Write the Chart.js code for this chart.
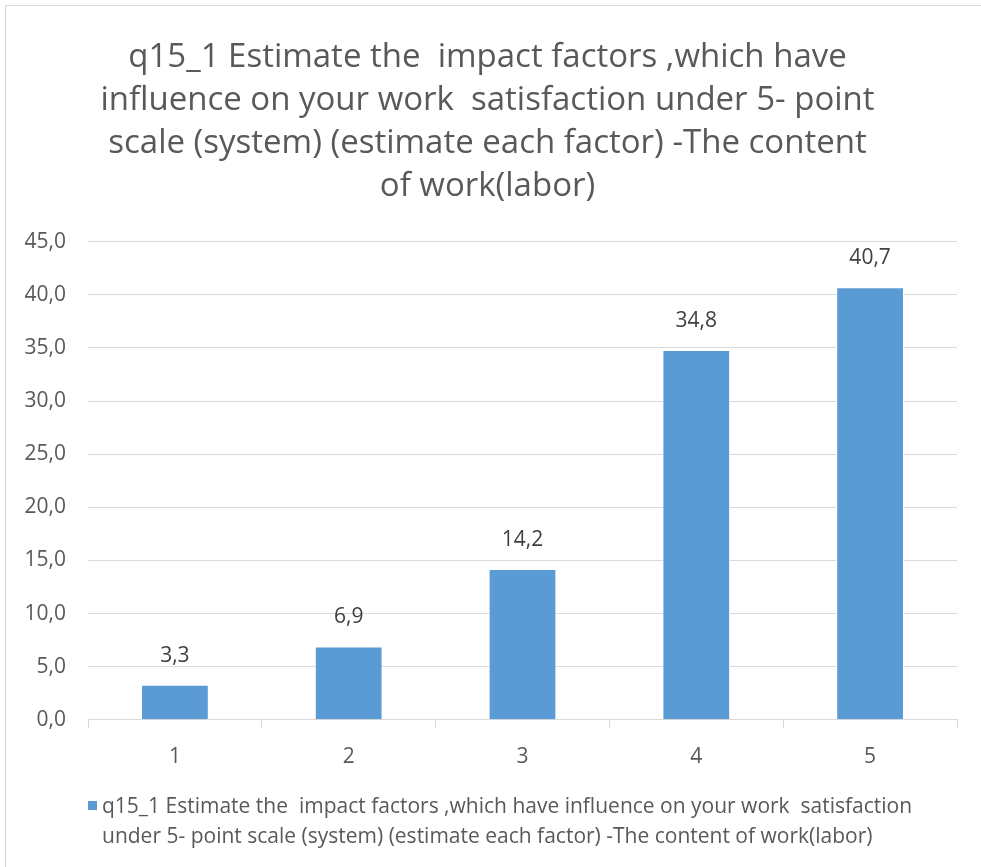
<!DOCTYPE html>
<html lang="en">
  <head>
    <meta charset="UTF-8" />
    <title>q15_1 The content of work(labor)</title>
    <script src="https://cdn.jsdelivr.net/npm/chart.js@4.4.1/dist/chart.umd.min.js"></script>
    <style>
      body {
        margin: 0;
        background: #fff;
        font-family: "Open Sans", "Noto Sans", sans-serif;
      }
      .wrap {
        position: relative;
        width: 981px;
        height: 867px;
        overflow: hidden;
      }
      .frame {
        position: absolute;
        left: 5px;
        top: 5px;
        width: 990px;
        height: 880px;
        border: 1px solid #d9d9d9;
      }
      canvas {
        position: absolute;
        left: 0;
        top: 0;
      }
      .legend {
        position: absolute;
        left: 88px;
        top: 790px;
        width: 880px;
        color: #595959;
        font-size: 21px;
        line-height: 30px;
        white-space: nowrap;
      }
      .legend .box {
        display: inline-block;
        width: 9px;
        height: 9px;
        background: #5b9bd5;
        margin-right: 5px;
        vertical-align: 3px;
      }
      .legend .second {
        padding-left: 14px;
      }
    </style>
  </head>
  <body>
    <div class="wrap">
      <div class="frame"></div>
      <canvas id="chart" width="981" height="867"></canvas>
      <div class="legend">
        <div><span class="box"></span>q15_1 Estimate the&nbsp; impact factors ,which have influence on your work&nbsp; satisfaction</div>
        <div class="second">under 5- point scale (system) (estimate each factor) -The content of work(labor)</div>
      </div>
    </div>
    <script>
      const categories = ["1", "2", "3", "4", "5"];
      const values = [3.3, 6.9, 14.2, 34.8, 40.7];
      const titleLines = [
        "q15_1 Estimate the  impact factors ,which have",
        "influence on your work  satisfaction under 5- point",
        "scale (system) (estimate each factor) -The content",
        "of work(labor)",
      ];
      const seriesName =
        "q15_1 Estimate the  impact factors ,which have influence on your work  satisfaction under 5- point scale (system) (estimate each factor) -The content of work(labor)";

      const fmt = (v) => v.toFixed(1).replace(".", ",");
      const fontFamily = '"Open Sans", "Noto Sans", sans-serif';

      // value labels above each bar
      const barLabels = {
        id: "barLabels",
        afterDatasetsDraw(chart) {
          const ctx = chart.ctx;
          const meta = chart.getDatasetMeta(0);
          ctx.save();
          ctx.fillStyle = "#404040";
          ctx.font = "21px " + fontFamily;
          ctx.textAlign = "center";
          ctx.textBaseline = "middle";
          meta.data.forEach((bar, i) => {
            ctx.fillText(fmt(values[i]), bar.x, bar.y - 29);
          });
          ctx.restore();
        },
      };

      new Chart(document.getElementById("chart"), {
        type: "bar",
        data: {
          labels: categories,
          datasets: [
            {
              label: seriesName,
              data: values,
              backgroundColor: "#5b9bd5",
              borderColor: "#ffffff",
              borderWidth: 1,
              categoryPercentage: 1,
              barPercentage: 0.39,
            },
          ],
        },
        options: {
          responsive: false,
          animation: false,
          layout: {
            padding: { top: 26, left: 18, right: 24, bottom: 80 },
          },
          plugins: {
            legend: { display: false },
            tooltip: { enabled: false },
            title: {
              display: true,
              text: titleLines,
              color: "#595959",
              font: { family: fontFamily, size: 33, weight: "normal", lineHeight: 1.3 },
              padding: { top: 10, bottom: 34 },
            },
          },
          scales: {
            x: {
              grid: {
                display: true,
                drawOnChartArea: false,
                drawTicks: true,
                tickLength: 8,
                color: "#d9d9d9",
              },
              border: { color: "#d9d9d9", width: 1 },
              ticks: {
                color: "#595959",
                font: { family: fontFamily, size: 21 },
                padding: 17,
              },
            },
            y: {
              min: 0,
              max: 45,
              afterFit: (scale) => {
                scale.width = 70;
              },
              ticks: {
                stepSize: 5,
                color: "#595959",
                font: { family: fontFamily, size: 21 },
                padding: 22,
                callback: (v) => fmt(v),
              },
              grid: { color: "#d9d9d9", drawTicks: false },
              border: { display: false },
            },
          },
        },
        plugins: [barLabels],
      });
    </script>
  </body>
</html>
